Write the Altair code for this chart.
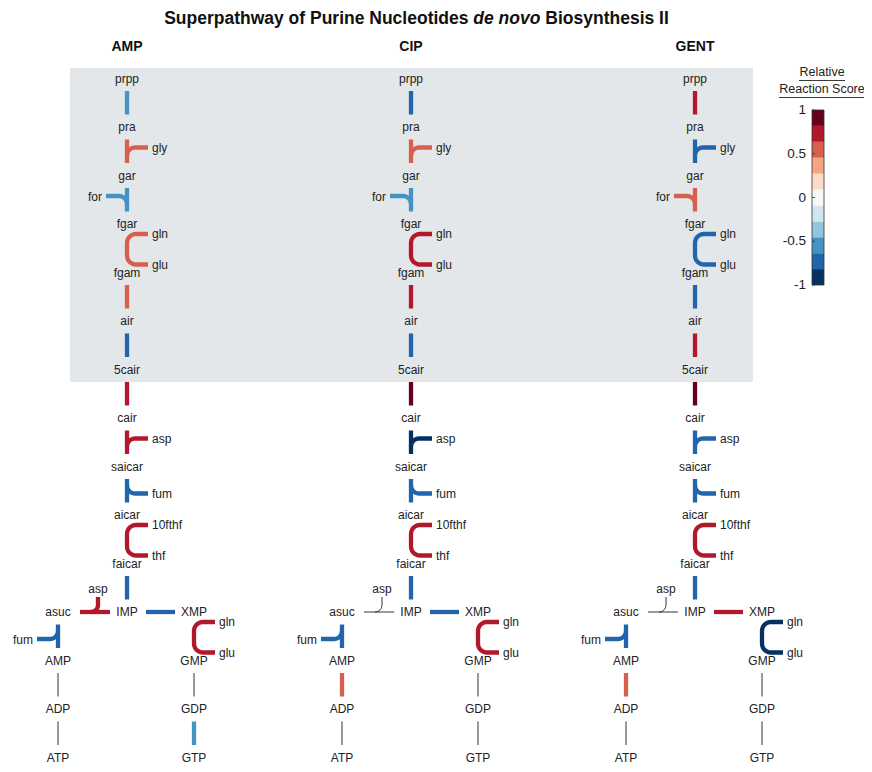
import math
import altair as alt
import pandas as pd

# ---------------- data ----------------
conditions = ["AMP", "CIP", "GENT"]
reactions = [
    "prpp>pra", "pra>gar", "gar>fgar", "fgar>fgam", "fgam>air", "air>5cair",
    "5cair>cair", "cair>saicar", "saicar>aicar", "aicar>faicar", "faicar>IMP",
    "IMP>asuc", "IMP>XMP", "asuc>AMP", "XMP>GMP", "AMP>ADP", "ADP>ATP",
    "GMP>GDP", "GDP>GTP",
]
cofactors = [
    [], ["gly"], ["for"], ["gln", "glu"], [], [], [], ["asp"], ["fum"],
    ["10fthf", "thf"], [], ["asp"], [], ["fum"], ["gln", "glu"], [], [], [], [],
]
score_amp = [-0.55, 0.55, -0.55, 0.55, 0.55, -0.73, 0.73, 0.73, -0.73, 0.73,
             -0.73, 0.73, -0.73, -0.73, 0.73, None, None, None, -0.55]
score_cip = [-0.73, 0.55, -0.55, 0.73, 0.73, -0.73, 0.91, -0.91, -0.73, 0.73,
             -0.73, None, -0.73, -0.73, 0.73, 0.55, None, None, None]
score_gent = [0.73, -0.73, 0.55, -0.73, -0.73, 0.73, 0.91, -0.73, -0.73, 0.73,
              -0.73, None, 0.73, -0.73, -0.91, 0.55, None, None, None]
scores = [score_amp, score_cip, score_gent]
scale_ticks = [1, 0.5, 0, -0.5, -1]
scale_tick_labels = ["1", "0.5", "0", "-0.5", "-1"]
palette = ["#053061", "#2166ac", "#4393c3", "#92c5de", "#d1e5f0", "#f7f7f7",
           "#fddbc7", "#f4a582", "#d6604d", "#b2182b", "#67001f"]
title_parts = ["Superpathway of Purine Nucleotides", "de novo", "Biosynthesis II"]

# ---------------- layout (grid of the pathway) ----------------
ROW = {"prpp": 0, "pra": 1, "gar": 2, "fgar": 3, "fgam": 4, "air": 5, "5cair": 6,
       "cair": 7, "saicar": 8, "aicar": 9, "faicar": 10, "IMP": 11, "asuc": 11,
       "XMP": 11, "AMP": 12, "GMP": 12, "ADP": 13, "GDP": 13, "ATP": 14, "GTP": 14}
COL = {n: 0 for n in ROW}
COL.update({"asuc": -1, "AMP": -1, "ADP": -1, "ATP": -1,
            "XMP": 1, "GMP": 1, "GDP": 1, "GTP": 1})
SHAPE = ["straight", "in_r", "in_l", "loop_r", "straight", "straight", "straight",
         "in_r", "out_r", "loop_r", "straight", "h_in", "h_out", "out_l", "loop_r",
         "straight", "straight", "straight", "straight"]
PANEL_X = [127, 411, 695]
COL_DX = {-1: -69, 0: 0, 1: 67}
Y0, DY = 78.5, 48.5
FONT = "Liberation Sans"
ARM = 21      # length of a side branch
RB = 8        # corner radius of a side branch
RC = 9        # corner radius of a loop


def node_xy(n, p):
    return PANEL_X[p] + COL_DX[COL[n]], Y0 + DY * ROW[n]


def arc(cx, cy, r, a0, a1, steps=10):
    pts = []
    for i in range(steps + 1):
        a = math.radians(a0 + (a1 - a0) * i / steps)
        pts.append((cx + r * math.cos(a), cy + r * math.sin(a)))
    return pts


def geometry(kind, xs, ys, xd, yd, names):
    paths, labels = [], []
    if kind == "h_in":
        y = ys
        paths.append([(xs - 47, y), (xs - 17, y)])
        bx = xs - 29
        r = 7
        paths.append([(bx, y - 15)] + arc(bx - r, y - r, r, 0, 90))
        labels.append((bx, y - 23, names[0], "center"))
        return paths, labels
    if kind == "h_out":
        paths.append([(xs + 19, ys), (xs + 48, ys)])
        return paths, labels
    x = xs
    top, bot = ys + 12.5, yd - 12.5
    if kind == "loop_r":
        yt, yb = ys + 10, yd - 8
        pts = [(x + ARM, yt)]
        pts += arc(x + RC, yt + RC, RC, 270, 180)
        pts += arc(x + RC, yb - RC, RC, 180, 90)
        pts += [(x + ARM, yb)]
        paths.append(pts)
        labels += [(x + ARM + 4, yt, names[0], "left"),
                   (x + ARM + 4, yb, names[1], "left")]
        return paths, labels
    paths.append([(x, top), (x, bot)])
    if kind != "straight":
        s = 1 if kind.endswith("r") else -1
        if kind.startswith("in"):
            arm = top + 8
            if s > 0:
                pts = arc(x + RB, arm + RB, RB, 180, 270)
            else:
                pts = arc(x - RB, arm + RB, RB, 0, -90)
        else:
            arm = bot - 9
            if s > 0:
                pts = arc(x + RB, arm - RB, RB, 180, 90)
            else:
                pts = arc(x - RB, arm - RB, RB, 0, 90)
        pts = pts + [(x + s * ARM, arm)]
        paths.append(pts)
        labels.append((x + s * (ARM + 4), arm + 0.5, names[0], "left" if s > 0 else "right"))
    return paths, labels


line_rows, lab_rows, node_rows = [], [], []
pid = 0
for p, cond in enumerate(conditions):
    nodes = []
    for i, r in enumerate(reactions):
        src, dst = r.split(">")
        for n in (src, dst):
            if n not in nodes:
                nodes.append(n)
        xs, ys = node_xy(src, p)
        xd, yd = node_xy(dst, p)
        paths, labels = geometry(SHAPE[i], xs, ys, xd, yd, cofactors[i])
        sc = scores[p][i]
        for path in paths:
            for k, (x, y) in enumerate(path):
                line_rows.append({"pid": pid, "k": k, "x": x, "y": y,
                                  "score": sc, "na": sc is None})
            pid += 1
        for (x, y, t, a) in labels:
            lab_rows.append({"x": x, "y": y, "text": t, "align": a})
    for n in nodes:
        x, y = node_xy(n, p)
        node_rows.append({"x": x, "y": y, "text": n})

lines = pd.DataFrame(line_rows)
scored = lines[~lines["na"]].copy()
unscored = lines[lines["na"]].copy()
labs = pd.DataFrame(lab_rows)
nodes_df = pd.DataFrame(node_rows)

X = alt.Scale(domain=[8, 864], range=[0, 856])
Y = alt.Scale(domain=[8, 764], range=[0, 756])
CB = alt.Scale(domain=[-1, 1], range=[277, 102])
COLOR = alt.Scale(type="quantize", domain=[-1, 1], range=palette)


def xq(f="x"):
    return alt.X(f"{f}:Q", scale=X, axis=None)


def yq(f="y"):
    return alt.Y(f"{f}:Q", scale=Y, axis=None)


bg = alt.Chart(pd.DataFrame({"x": [70], "x2": [753], "y": [68], "y2": [382]})).mark_rect(
    color="#e4e7e9").encode(x=xq(), x2="x2:Q", y=yq(), y2="y2:Q")

scored_layer = alt.Chart(scored).mark_line(
    interpolate="linear", strokeWidth=4.3, strokeCap="butt", strokeJoin="round").encode(
    x=xq(), y=yq(), detail="pid:N", order=alt.Order("k:Q"),
    color=alt.Color("score:Q", scale=COLOR, legend=None))

na_layer = alt.Chart(unscored).mark_line(
    interpolate="linear", strokeWidth=1, color="#333333").encode(
    x=xq(), y=yq(), detail="pid:N", order=alt.Order("k:Q"))

node_text = alt.Chart(nodes_df).mark_text(
    font=FONT, fontSize=12, color="#222222", baseline="middle", align="center").encode(
    x=xq(), y=yq(), text="text:N")


def lab_layer(a):
    return alt.Chart(labs[labs["align"] == a]).mark_text(
        font=FONT, fontSize=12, color="#222222", baseline="middle", align=a).encode(
        x=xq(), y=yq(), text="text:N")


headers = alt.Chart(pd.DataFrame({"x": PANEL_X, "y": [47] * 3, "text": conditions})).mark_text(
    font=FONT, fontSize=14, fontWeight="bold", color="#111111", baseline="middle").encode(
    x=xq(), y=yq(), text="text:N")

TY = 19
t1 = alt.Chart(pd.DataFrame({"x": [468.5], "y": [TY], "text": [title_parts[0]]})).mark_text(
    font=FONT, fontSize=17.5, fontWeight="bold", color="#111111", align="right",
    baseline="middle").encode(x=xq(), y=yq(), text="text:N")
t2 = alt.Chart(pd.DataFrame({"x": [473.3], "y": [TY], "text": [title_parts[1]]})).mark_text(
    font=FONT, fontSize=17.5, fontWeight="bold", fontStyle="italic", color="#111111",
    align="left", baseline="middle").encode(x=xq(), y=yq(), text="text:N")
t3 = alt.Chart(pd.DataFrame({"x": [545.3], "y": [TY], "text": [title_parts[2]]})).mark_text(
    font=FONT, fontSize=17.5, fontWeight="bold", color="#111111", align="left",
    baseline="middle").encode(x=xq(), y=yq(), text="text:N")

# colour bar
n = len(palette)
edges = [-1 + 2 * i / n for i in range(n + 1)]
cb_df = pd.DataFrame({"lo": edges[:-1], "hi": edges[1:],
                      "mid": [(edges[i] + edges[i + 1]) / 2 for i in range(n)],
                      "x": [812] * n, "x2": [824] * n})
cb_rects = alt.Chart(cb_df).mark_rect().encode(
    x=xq(), x2="x2:Q",
    y=alt.Y("lo:Q", scale=CB, axis=None), y2="hi:Q",
    color=alt.Color("mid:Q", scale=COLOR, legend=None))
cb_border = alt.Chart(pd.DataFrame({"lo": [-1], "hi": [1], "x": [812], "x2": [824]})).mark_rect(
    fill=None, stroke="#333333", strokeWidth=0.8).encode(
    x=xq(), x2="x2:Q", y=alt.Y("lo:Q", scale=CB, axis=None), y2="hi:Q")
tick_df = pd.DataFrame({"v": scale_ticks, "t": scale_tick_labels,
                        "x": [812] * 5, "x2": [815] * 5, "xl": [806] * 5})
cb_ticks = alt.Chart(tick_df).mark_rule(color="#333333", strokeWidth=0.8).encode(
    x=xq(), x2="x2:Q", y=alt.Y("v:Q", scale=CB, axis=None))
cb_labels = alt.Chart(tick_df).mark_text(
    font=FONT, fontSize=13.5, color="#222222", align="right", baseline="middle").encode(
    x=xq("xl"), y=alt.Y("v:Q", scale=CB, axis=None), text="t:N")
cb_title = alt.Chart(pd.DataFrame({"x": [822, 822], "y": [72, 89],
                                   "text": ["Relative", "Reaction Score"]})).mark_text(
    font=FONT, fontSize=12.5, color="#222222", baseline="middle").encode(
    x=xq(), y=yq(), text="text:N")
cb_under = alt.Chart(pd.DataFrame({"x": [799, 779], "x2": [845, 864],
                                   "y": [80.5, 97.5]})).mark_rule(
    color="#222222", strokeWidth=0.9).encode(x=xq(), x2="x2:Q", y=yq())

chart = alt.layer(
    bg, na_layer, scored_layer, node_text, lab_layer("left"), lab_layer("right"),
    lab_layer("center"), headers, t1, t2, t3,
    cb_rects, cb_border, cb_ticks, cb_labels, cb_title, cb_under,
).resolve_scale(y="independent").properties(
    width=856, height=756, padding=0, autosize="none"
).configure_view(stroke=None)

chart.save("out.html", embed_options={"renderer": "svg", "actions": False})
